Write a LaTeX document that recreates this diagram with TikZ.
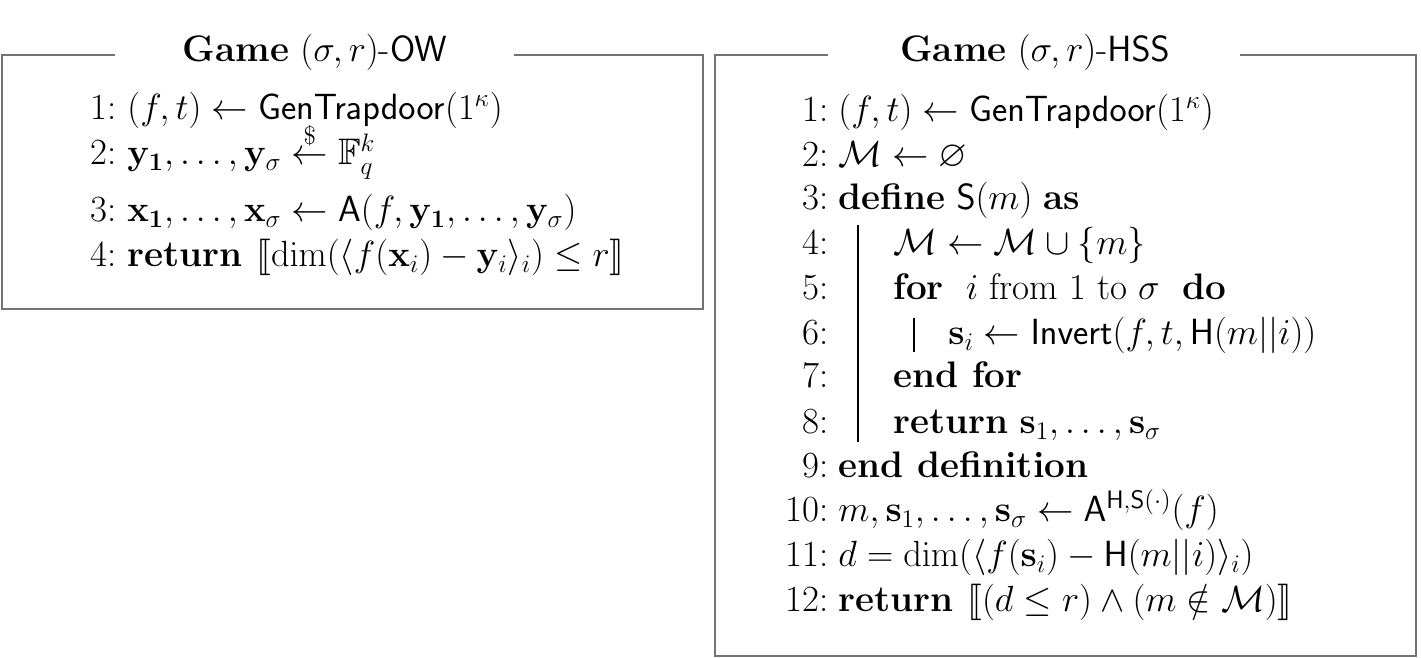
\documentclass[tikz,border=0pt]{standalone}
\usepackage{amsmath,amssymb,stmaryrd}
\begin{document}
\begin{tikzpicture}[x=0.02cm,y=-0.02cm,
  frame/.style={draw=black!55,line width=1.6pt},
  ln/.style={anchor=base west,inner sep=0pt,font=\fontsize{21}{25}\selectfont},
  num/.style={anchor=base east,inner sep=0pt,font=\fontsize{21}{25}\selectfont},
  ttl/.style={inner sep=0pt,font=\fontsize{21}{25}\selectfont}]
\useasboundingbox (0,0) rectangle (1421,658);
% frames
\draw[frame] (115,55) -- (2,55) -- (2,309) -- (703,309) -- (703,55) -- (514,55);
\draw[frame] (828,55) -- (715,55) -- (715,656) -- (1416,656) -- (1416,55) -- (1240,55);
\node[ttl] (t1) at (315,52) {\textbf{Game} $(\sigma,r)$-$\mathsf{OW}$};
\node[ttl] (t2) at (1035,52) {\textbf{Game} $(\sigma,r)$-$\mathsf{HSS}$};
% left
\foreach \n/\y in {1/120,2/165,3/222,4/267}{\node[num] (ln\n) at (117,\y) {\n:};}
\node[ln] (l1) at (127,120) {$(f,t)\leftarrow\mathsf{GenTrapdoor}(1^\kappa)$};
\node[ln] (l2) at (127,165) {$\mathbf{y_1},\ldots,\mathbf{y}_\sigma\stackrel{\$}{\leftarrow}\mathbb{F}_q^k$};
\node[ln] (l3) at (127,222) {$\mathbf{x_1},\ldots,\mathbf{x}_\sigma\leftarrow\mathsf{A}(f,\mathbf{y_1},\ldots,\mathbf{y}_\sigma)$};
\node[ln] (l4) at (127,267) {$\textbf{return }\llbracket\dim(\langle f(\mathbf{x}_i)-\mathbf{y}_i\rangle_i)\le r\rrbracket$};
% right
\foreach \n/\y in {1/122,2/167,3/210,4/255,5/300,6/345,7/388,8/434,9/478,10/522,11/567,12/612}{\node[num] (rn\n) at (829,\y) {\n:};}
\node[ln] (r1) at (838,122) {$(f,t)\leftarrow\mathsf{GenTrapdoor}(1^\kappa)$};
\node[ln] (r2) at (838,167) {$\mathcal{M}\leftarrow\varnothing$};
\node[ln] (r3) at (838,210) {\textbf{define} $\mathsf{S}(m)$ \textbf{as}};
\node[ln] (r4) at (893,255) {$\mathcal{M}\leftarrow\mathcal{M}\cup\{m\}$};
\node[ln] (r5) at (893,300) {\textbf{for} \ $i$ from $1$ to $\sigma$ \ \textbf{do}};
\node[ln] (r6) at (948,345) {$\mathbf{s}_i\leftarrow\mathsf{Invert}(f,t,\mathsf{H}(m||i))$};
\node[ln] (r7) at (893,388) {\textbf{end for}};
\node[ln] (r8) at (893,434) {\textbf{return} $\mathbf{s}_1,\ldots,\mathbf{s}_\sigma$};
\node[ln] (r9) at (838,478) {\textbf{end definition}};
\node[ln] (r10) at (838,522) {$m,\mathbf{s}_1,\ldots,\mathbf{s}_\sigma\leftarrow\mathsf{A}^{\mathsf{H},\mathsf{S}(\cdot)}(f)$};
\node[ln] (r11) at (838,567) {$d=\dim(\langle f(\mathbf{s}_i)-\mathsf{H}(m||i)\rangle_i)$};
\node[ln] (r12) at (838,612) {$\textbf{return }\llbracket(d\le r)\wedge(m\notin\mathcal{M})\rrbracket$};
\draw[line width=0.8pt] (858,225) -- (858,442);
\draw[line width=0.8pt] (914,318) -- (914,352);
\end{tikzpicture}
\end{document}
